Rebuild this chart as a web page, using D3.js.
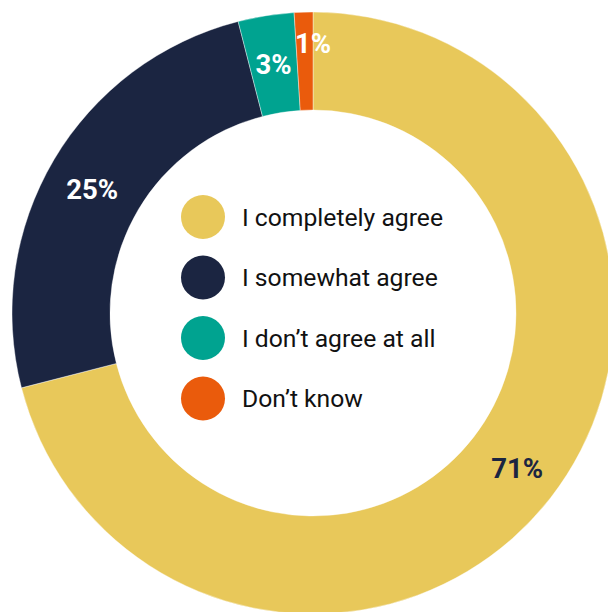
<!DOCTYPE html>
<html>
<head>
<meta charset="utf-8">
<script src="https://cdn.jsdelivr.net/npm/d3@7/dist/d3.min.js"></script>
<style>
  html, body { margin: 0; padding: 0; background: #fff; }
  svg { display: block; }
</style>
</head>
<body>
<svg id="chart" width="608" height="612"></svg>
<script>
// Survey answers and their shares (percent)
const categories = ["I completely agree", "I somewhat agree", "I don\u2019t agree at all", "Don\u2019t know"];
const values = [71, 25, 3, 1];
const colors = ["#E8C85A", "#1B2541", "#00A390", "#EA5B0C"];
const labelColors = ["#1B2541", "#FFFFFF", "#FFFFFF", "#FFFFFF"];

const W = 608, H = 612;
const cx = 313, cy = 313;
const outerR = 301, innerR = 203;

const svg = d3.select("#chart");
const g = svg.append("g").attr("transform", `translate(${cx},${cy})`);

const data = categories.map((c, i) => ({ name: c, value: values[i], i }));

const pie = d3.pie().value(d => d.value).sort(null);
const arc = d3.arc().innerRadius(innerR).outerRadius(outerR);
const arcs = pie(data);

g.selectAll("path.slice")
  .data(arcs)
  .join("path")
  .attr("class", "slice")
  .attr("d", arc)
  .attr("fill", d => colors[d.data.i])
  .attr("stroke", "#fff")
  .attr("stroke-width", 0.4);

// Percentage labels sit on the ring centroid; the narrowest slice's label is lifted above its sliver
const labelNudge = [[5, 1], [-4, 5], [0, 0], [8, -18]];
g.selectAll("text.pct")
  .data(arcs)
  .join("text")
  .attr("class", "pct")
  .attr("x", d => arc.centroid(d)[0] + labelNudge[d.data.i][0])
  .attr("y", d => arc.centroid(d)[1] + labelNudge[d.data.i][1])
  .attr("dy", "0.35em")
  .attr("text-anchor", "middle")
  .attr("font-family", "Roboto, sans-serif")
  .attr("font-weight", 700)
  .attr("font-size", 27.5)
  .attr("fill", d => labelColors[d.data.i])
  .text(d => d.data.value + "%");

// Legend in the donut hole
const legend = svg.append("g").attr("transform", "translate(203,217)");
const rowStep = 60.5;
const item = legend.selectAll("g.item")
  .data(data)
  .join("g")
  .attr("class", "item")
  .attr("transform", d => `translate(0,${d.i * rowStep})`);

item.append("circle")
  .attr("r", 22)
  .attr("fill", d => colors[d.i]);

item.append("text")
  .attr("x", 39)
  .attr("dy", "0.35em")
  .attr("font-family", "Roboto, sans-serif")
  .attr("font-size", 24.7)
  .attr("fill", "#111")
  .text(d => d.name);
</script>
</body>
</html>
